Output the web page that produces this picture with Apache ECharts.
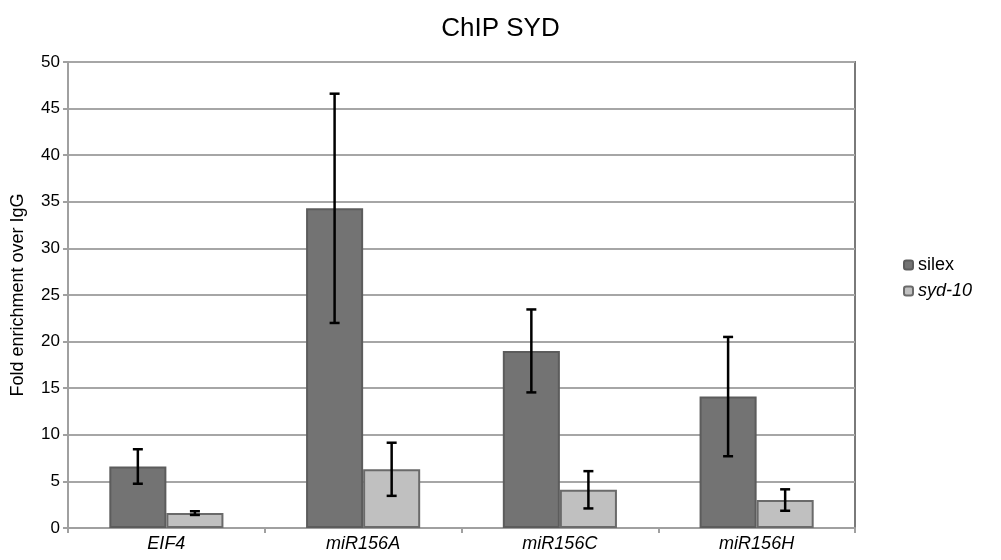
<!DOCTYPE html>
<html>
<head>
<meta charset="utf-8">
<script src="https://cdn.jsdelivr.net/npm/echarts@6/dist/echarts.min.js"></script>
<style>
  html, body { margin: 0; padding: 0; background: #fff; }
  #main { width: 1001px; height: 560px; }
</style>
</head>
<body>
<div id="main"></div>
<script>
// values
var categories = ['EIF4', 'miR156A', 'miR156C', 'miR156H'];
var silexVals = [6.6, 34.3, 19.0, 14.1];
var silexErr = [1.85, 12.3, 4.45, 6.4];
var sydVals = [1.6, 6.3, 4.1, 3.0];
var sydErr = [0.2, 2.85, 2.0, 1.15];
var yTicks = [0, 5, 10, 15, 20, 25, 30, 35, 40, 45, 50];

var CAT_GAP = 0.42; // fraction of category left empty
var chart = echarts.init(document.getElementById('main'));

function errData(vals, errs) {
  return vals.map(function (v, i) { return [i, v - errs[i], v + errs[i]]; });
}

// draws an error bar; side = -1 for left bar, +1 for right bar
function errRenderer(side) {
  return function (params, api) {
    var idx = api.value(0);
    var lo = api.coord([idx, api.value(1)]);
    var hi = api.coord([idx, api.value(2)]);
    var catW = api.size([1, 0])[0];
    var barW = catW * (1 - CAT_GAP) / 2;
    var x = lo[0] + side * barW / 2;
    var cap = 5;
    var style = { stroke: '#000', lineWidth: 2.5 };
    return {
      type: 'group',
      children: [
        { type: 'line', shape: { x1: x, y1: hi[1], x2: x, y2: lo[1] }, style: style },
        { type: 'line', shape: { x1: x - cap, y1: hi[1], x2: x + cap, y2: hi[1] }, style: style },
        { type: 'line', shape: { x1: x - cap, y1: lo[1], x2: x + cap, y2: lo[1] }, style: style }
      ]
    };
  };
}

var option = {
  animation: false,
  backgroundColor: '#fff',
  textStyle: { fontFamily: 'Liberation Sans, Arial, sans-serif' },
  title: {
    text: 'ChIP SYD',
    left: 'center',
    top: 11,
    textStyle: { fontSize: 26, fontWeight: 'normal', color: '#000' }
  },
  legend: {
    orient: 'vertical',
    left: 898,
    top: 251,
    itemWidth: 9,
    itemHeight: 9,
    itemGap: 8,
    data: ['silex', 'syd-10'],
    textStyle: {
      fontSize: 18, color: '#000',
      rich: { i: { fontStyle: 'italic', fontSize: 18, color: '#000' } }
    },
    formatter: function (name) {
      return name === 'syd-10' ? '{i|' + name + '}' : name;
    }
  },
  grid: {
    left: 68, right: 146, top: 62, bottom: 32,
    show: true, borderColor: '#7a7a7a', borderWidth: 2
  },
  xAxis: {
    type: 'category',
    data: categories,
    axisLine: { lineStyle: { color: '#a0a0a0', width: 2 } },
    axisTick: { show: true, length: 5, lineStyle: { color: '#a0a0a0', width: 2 } },
    axisLabel: { fontSize: 18, fontStyle: 'italic', color: '#000', margin: 7 }
  },
  yAxis: {
    type: 'value',
    min: yTicks[0],
    max: yTicks[yTicks.length - 1],
    interval: 5,
    name: 'Fold enrichment over IgG',
    nameLocation: 'middle',
    nameGap: 41,
    nameTextStyle: { fontSize: 18, color: '#000' },
    axisLine: { show: true, lineStyle: { color: '#a0a0a0', width: 2 } },
    axisTick: { show: true, length: 5, lineStyle: { color: '#a0a0a0', width: 2 } },
    axisLabel: { fontSize: 17, color: '#000', margin: 8 },
    splitLine: { lineStyle: { color: '#a6a6a6', width: 2 } }
  },
  series: [
    {
      name: 'silex',
      type: 'bar',
      data: silexVals,
      barGap: '0%',
      barCategoryGap: (CAT_GAP * 100) + '%',
      itemStyle: { color: '#737373', borderColor: '#5c5c5c', borderWidth: 2 }
    },
    {
      name: 'syd-10',
      type: 'bar',
      data: sydVals,
      itemStyle: { color: '#c0c0c0', borderColor: '#6a6a6a', borderWidth: 2 }
    },
    {
      type: 'custom',
      renderItem: errRenderer(-1),
      data: errData(silexVals, silexErr),
      encode: { x: 0, y: [1, 2] },
      z: 10
    },
    {
      type: 'custom',
      renderItem: errRenderer(1),
      data: errData(sydVals, sydErr),
      encode: { x: 0, y: [1, 2] },
      z: 10
    }
  ]
};

chart.setOption(option);
</script>
</body>
</html>
